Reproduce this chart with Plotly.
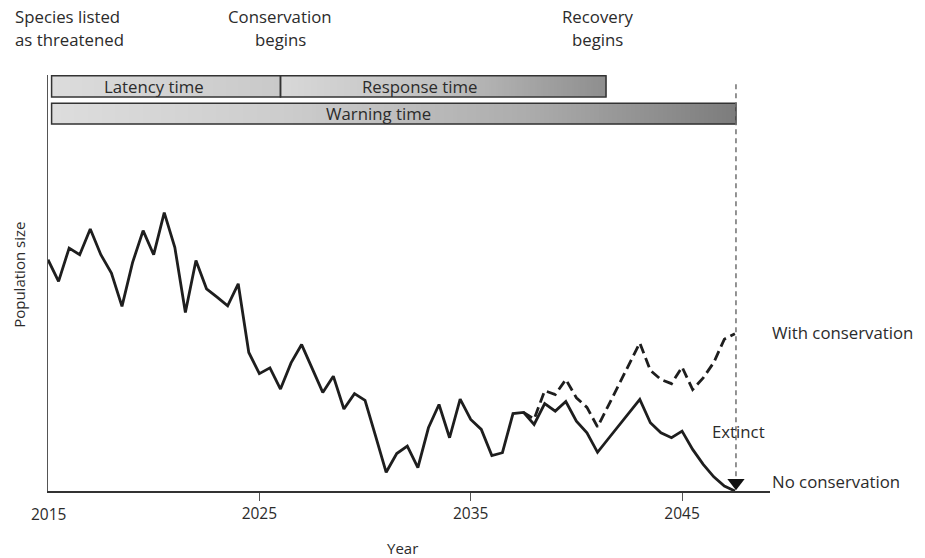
import numpy as np
import plotly.graph_objects as go

# ---- data ----
years = [2015 + 0.5 * i for i in range(66)]
no_conservation = [
    55.6, 50.4, 58.4, 56.8, 63.0, 56.8, 52.4, 44.4, 54.9, 62.6,
    56.8, 66.9, 58.6, 42.9, 55.4, 48.6, 46.6, 44.5, 49.8, 33.3,
    28.2, 29.6, 24.5, 30.8, 35.2, 29.6, 23.7, 27.6, 19.7, 23.4,
    21.8, 13.2, 4.5, 9.0, 10.8, 5.6, 15.2, 20.8, 12.8, 22.1,
    17.2, 14.8, 8.5, 9.2, 18.6, 18.9, 16.0, 21.0, 19.2, 21.5,
    16.8, 14.0, 9.3, 12.5, 15.7, 18.8, 22.0, 16.4, 14.0, 12.8,
    14.4, 10.0, 6.4, 3.4, 1.2, 0.0,
]
cons_years = years[45:]
with_conservation = [
    18.9, 17.3, 24.1, 23.2, 26.8, 22.4, 20.1, 15.4, 20.4, 25.6,
    30.8, 35.6, 29.0, 26.8, 25.8, 29.8, 24.4, 27.2, 30.9, 36.5, 37.8,
]

# timeline bars
bar_labels = ["Latency time", "Response time", "Warning time"]
bar_starts = [2015.17, 2026.0, 2015.17]
bar_ends = [2026.0, 2041.4, 2047.55]
bar_label_x = [2020.0, 2032.6, 2030.65]
bar_rows = [0, 0, 1]
row_bounds = [(94.7, 99.8), (88.2, 93.2)]
bar_scales = [
    [[0, "#dcdcdc"], [1, "#c9c9c9"]],
    [[0, "#d8d8d8"], [0.5, "#bfbfbf"], [1, "#8e8e8e"]],
    [[0, "#dddddd"], [0.35, "#cccccc"], [0.7, "#acacac"], [1, "#7d7d7d"]],
]

# event markers
event_years = [2015.3, 2026.0, 2041.3]
event_text = [["Species listed", "as threatened"], ["Conservation", "begins"], ["Recovery", "begins"]]
event_text_x = [None, 2026.0, 2041.0]
extinct_year = 2047.55

TXT = "#2b2b2b"
FONT = "Open Sans"
FS = 16.8

fig = go.Figure()

# gradient bars via heatmaps
for lab, x0, x1, row, cs in zip(bar_labels, bar_starts, bar_ends, bar_rows, bar_scales):
    n = 150
    xe = np.linspace(x0, x1, n + 1)
    z = [np.linspace(0, 1, n)]
    y0, y1 = row_bounds[row]
    fig.add_trace(go.Heatmap(x=xe, y=[y0, y1], z=z, colorscale=cs, zmin=0, zmax=1,
                             showscale=False, hoverinfo="skip"))
    fig.add_shape(type="rect", x0=x0, x1=x1, y0=y0, y1=y1,
                  line=dict(color="#333333", width=1.5), fillcolor="rgba(0,0,0,0)")

for lab, lx, row in zip(bar_labels, bar_label_x, bar_rows):
    y0, y1 = row_bounds[row]
    fig.add_annotation(x=lx, y=(y0 + y1) / 2, text=lab, showarrow=False,
                       font=dict(size=FS, color=TXT, family=FONT), yanchor="middle")

# population lines
fig.add_trace(go.Scatter(x=cons_years, y=with_conservation, mode="lines",
                         line=dict(color="#1e1e1e", width=2.8, dash="10px,5px"),
                         hoverinfo="skip"))
fig.add_trace(go.Scatter(x=years, y=no_conservation, mode="lines",
                         line=dict(color="#1e1e1e", width=2.8), hoverinfo="skip"))

# extinction dashed line + arrowhead
fig.add_shape(type="line", x0=extinct_year, x1=extinct_year, y0=97.8, y1=3.0,
              line=dict(color="#707070", width=1.5, dash="5px,4px"))
fig.add_trace(go.Scatter(x=[extinct_year], y=[2.0], mode="markers",
                         marker=dict(symbol="triangle-down", size=15, color="#111111"),
                         cliponaxis=False, hoverinfo="skip"))

# event arrowheads
fig.add_trace(go.Scatter(x=event_years, y=[101.7] * 3, mode="markers",
                         marker=dict(symbol="triangle-down", size=13, color="#111111"),
                         cliponaxis=False, hoverinfo="skip"))

# event text
line_y = [1.1405, 1.0865]
for i, (lines, tx) in enumerate(zip(event_text, event_text_x)):
    for j, t in enumerate(lines):
        if tx is None:
            fig.add_annotation(x=-0.0489, xref="paper", y=line_y[j], yref="paper", text=t,
                               showarrow=False, xanchor="left", yanchor="middle",
                               font=dict(size=FS, color=TXT, family=FONT))
        else:
            fig.add_annotation(x=tx, y=line_y[j], yref="paper", text=t,
                               showarrow=False, xanchor="center", yanchor="middle",
                               font=dict(size=FS, color=TXT, family=FONT))

# right-hand labels
fig.add_annotation(x=1.0, xref="paper", y=38.0, text="With conservation", showarrow=False,
                   xanchor="left", yanchor="middle", font=dict(size=FS, color=TXT, family=FONT))
fig.add_annotation(x=1.0, xref="paper", y=2.4, text="No conservation", showarrow=False,
                   xanchor="left", yanchor="middle", font=dict(size=FS, color=TXT, family=FONT))
fig.add_annotation(x=2047.67, y=14.3, text="Extinct", showarrow=False,
                   xanchor="center", yanchor="middle", font=dict(size=FS, color=TXT, family=FONT))

# axis titles and 2015 label
fig.add_annotation(x=2015, y=0, yref="paper", text="2015", showarrow=False,
                   xanchor="center", yanchor="top", yshift=-10,
                   font=dict(size=15.5, color=TXT, family=FONT))
fig.add_annotation(x=2031.75, y=-0.138, yref="paper", text="Year", showarrow=False,
                   xanchor="center", yanchor="middle", font=dict(size=15, color=TXT, family=FONT))
fig.add_annotation(x=-0.04, xref="paper", y=0.52, yref="paper", text="Population size",
                   textangle=-90, showarrow=False, xanchor="center", yanchor="middle",
                   font=dict(size=15, color=TXT, family=FONT))

fig.update_layout(
    width=925, height=558,
    margin=dict(l=48, r=155, t=75, b=67),
    paper_bgcolor="white", plot_bgcolor="white",
    showlegend=False,
    font=dict(family=FONT, size=16, color=TXT),
    xaxis=dict(range=[2015, 2049.16], showgrid=False, zeroline=False,
               showline=True, linecolor="#333333", linewidth=1.5,
               tickvals=[2025, 2035, 2045], ticks="outside", ticklen=8,
               tickcolor="#555555", tickwidth=1,
               tickfont=dict(size=15.5, color=TXT, family=FONT)),
    yaxis=dict(range=[0, 100], showgrid=False, zeroline=False,
               showline=True, linecolor="#555555", linewidth=1,
               showticklabels=False, ticks=""),
)

# remove the browser's default 8px body margin so the figure fills the window
fig.write_html("out.html", config={"displayModeBar": False},
               post_script="document.body.style.margin='0';")
